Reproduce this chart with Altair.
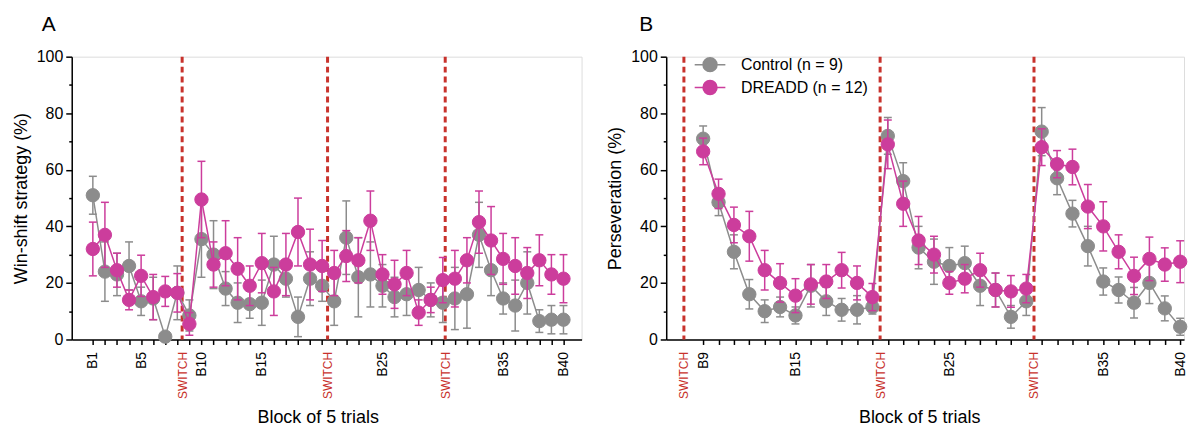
import altair as alt
import pandas as pd

FONT = "Liberation Sans"
GROUPS = ["Control (n = 9)", "DREADD (n = 12)"]
COLORS = ["#8c8c8c", "#cc3d9c"]
SWITCH_COLOR = "#c8322c"

# ---------------- Panel A: win-shift strategy ----------------
blocks_a = list(range(1, 41))
ctrl_a = [51, 24, 23, 26, 13.5, 14.5, 1, 16.5,
          8.5, 35.5, 30, 18, 13, 12.5, 13, 26.5, 21.5, 8, 21.5, 19,
          13.5, 36, 22, 23, 19, 15, 16, 17.5, 14, 13,
          14.5, 16, 37, 24.5, 14.5, 12, 20, 6.5, 7, 7]
ctrl_a_sem = [6.7, 10.5, 7.5, 8.5, 5, 7.5, 0.3, 9.5,
              5.5, 13.5, 12, 6, 7, 5, 8, 10, 6.5, 7, 9.5, 5.5,
              8.5, 13, 14, 11.5, 7.5, 7, 7.5, 8, 6, 7,
              11, 12, 11.5, 9, 5.5, 9, 11, 4, 5, 5]
dreadd_a = [32, 37, 24.5, 14, 22.5, 15, 17, 16.5,
            5.5, 49.5, 26.5, 30.5, 25, 19, 27, 17, 26.5, 38, 26.5, 26,
            23.5, 29.5, 28, 42, 23, 19.5, 23.5, 9.5, 14, 21,
            21.5, 28, 41.5, 35, 28.5, 26, 23.5, 28, 23, 21.5]
dreadd_a_sem = [9.5, 11.5, 6, 3.5, 7.3, 8, 5.3, 6.8,
                4, 13.5, 8, 11.5, 11, 7, 10.5, 8.5, 11, 12, 12.5, 9,
                8, 9, 8, 10.5, 7, 8.5, 8, 4.5, 4.5, 8,
                10, 8, 11, 12, 9, 10, 9, 9, 7, 8.5]
switch_a = [8.4, 20.45, 30.2]
labels_a = {1: "B1", 5: "B5", 10: "B10", 15: "B15", 25: "B25", 35: "B35", 40: "B40"}

# ---------------- Panel B: perseveration ----------------
blocks_b = list(range(9, 41))
ctrl_b = [71, 48.5, 31, 16, 10, 11.5, 8.5, 19, 13.5, 10.5, 10.5, 11.5,
          72, 56, 32.5, 27.5, 26, 27, 19, 17.5, 8, 13.5,
          73.5, 57, 44.5, 33, 20.5, 17.5, 13, 20, 11, 4.5]
ctrl_b_sem = [4.5, 4.7, 6, 5.2, 4, 3.5, 3, 7.5, 5, 4, 5, 2.5,
              6.5, 6.5, 7.5, 8, 6.5, 6, 7, 6, 4, 5,
              8.5, 5.8, 4.7, 7, 4.8, 4.6, 5.4, 7.3, 4.4, 3]
dreadd_b = [66.5, 51.5, 40.5, 36.5, 24.5, 20, 15.5, 19.5, 20.5, 24.5, 20, 15,
            69, 48, 35, 30, 20, 21.5, 24.5, 17.5, 17, 18,
            68, 62, 61, 47, 40, 31, 22.5, 28.5, 26.5, 27.5]
dreadd_b_sem = [4.7, 5.2, 6.3, 8.8, 7, 6.8, 6, 7, 6, 6.3, 6, 4.8,
                8.6, 8, 8.5, 6.5, 4, 5, 6, 6, 5.6, 5,
                6.5, 4.8, 6.3, 7.8, 8.7, 6, 6.6, 7.7, 5.9, 7.4]
switch_b = [7.75, 20.5, 30.5]
labels_b = {9: "B9", 15: "B15", 25: "B25", 35: "B35", 40: "B40"}


def make_df(blocks, ctrl, ctrl_sem, dreadd, dreadd_sem):
    rows = []
    for g, vals, sems in ((GROUPS[0], ctrl, ctrl_sem), (GROUPS[1], dreadd, dreadd_sem)):
        for b, v, s in zip(blocks, vals, sems):
            rows.append({"block": b, "mean": v, "lo": max(v - s, 0), "hi": v + s, "group": g})
    return pd.DataFrame(rows)


LEGEND_PATH = "M-2.2,0L-1,0M1,0L2.2,0M1,0A1,1,0,1,1,-1,0A1,1,0,1,1,1,0Z"
IS_SW = "datum.value % 1 != 0"


def panel(df, switches, labels, xdomain, width, ytitle, letter, letter_dx, show_legend, title_dx):
    tick_vals = sorted(set(df["block"].tolist()) | set(switches))
    parts = " : ".join(f"datum.value == {k} ? '{v}'" for k, v in labels.items())
    label_expr = f"{parts} : ({IS_SW} ? 'SWITCH' : '')"
    xaxis = alt.Axis(
        values=tick_vals, labelExpr=label_expr, labelAngle=270, labelOverlap=False,
        labelFlush=False, labelFont=FONT,
        labelFontSize={"condition": {"test": IS_SW, "value": 12}, "value": 14},
        labelColor={"condition": {"test": IS_SW, "value": SWITCH_COLOR}, "value": "black"},
        tickOpacity={"condition": {"test": IS_SW, "value": 0}, "value": 1},
        tickSize=5, tickWidth=1.5, tickColor="black", domainColor="black", domainWidth=1.5,
        labelPadding=7, title="Block of 5 trials", titleFont=FONT, titleFontSize=18,
        titleFontWeight="normal", titleColor="black", titlePadding=10,
        titleX=width / 2 + title_dx, titleAlign="center", grid=False)
    yaxis = alt.Axis(
        values=list(range(0, 101, 10)), labelExpr="datum.value % 20 == 0 ? datum.label : ''",
        tickSize={"condition": {"test": "datum.value % 20 != 0", "value": 3}, "value": 6},
        tickWidth=1.5, tickColor="black", domainColor="black", domainWidth=1.5,
        labelFont=FONT, labelFontSize=16, labelPadding=3, labelColor="black", labelOverlap=False,
        title=ytitle, titleFont=FONT, titleFontSize=18, titleFontWeight="normal",
        titleColor="black", titlePadding=6, grid=False)
    xs = alt.Scale(domain=xdomain, nice=False, zero=False)
    ys = alt.Scale(domain=[0, 100], nice=False)
    cscale = alt.Scale(domain=GROUPS, range=COLORS)
    if show_legend:
        leg = alt.Legend(title=None, orient="none", legendX=36, legendY=0,
                         symbolType=LEGEND_PATH, symbolSize=196, symbolStrokeWidth=1.5,
                         labelFont=FONT, labelFontSize=16, labelColor="black",
                         labelOffset=23, rowPadding=3)
    else:
        leg = None

    sw_df = pd.DataFrame({"x": switches})
    layers = [
        alt.Chart(sw_df).mark_rule(color=SWITCH_COLOR, strokeWidth=3, strokeDash=[6, 4]).encode(
            x=alt.X("x:Q", scale=xs, axis=xaxis),
            y=alt.YDatum(100, scale=ys, axis=yaxis), y2=alt.Y2Datum(0))
    ]
    for g in GROUPS:
        d = df[df["group"] == g]
        base = alt.Chart(d).encode(x=alt.X("block:Q", scale=xs, axis=xaxis))
        stroke = alt.Stroke("group:N", scale=cscale, legend=leg)
        fill = alt.Fill("group:N", scale=cscale, legend=leg)
        layers += [
            base.mark_rule(strokeWidth=1.5).encode(
                y=alt.Y("lo:Q", scale=ys, axis=yaxis), y2="hi:Q", stroke=stroke),
            base.mark_rule(strokeWidth=1.5, xOffset=-4, x2Offset=4).encode(
                x2="block:Q", y=alt.Y("hi:Q", scale=ys, axis=yaxis), stroke=stroke),
            base.mark_rule(strokeWidth=1.5, xOffset=-4, x2Offset=4).encode(
                x2="block:Q", y=alt.Y("lo:Q", scale=ys, axis=yaxis), stroke=stroke),
            base.mark_line(strokeWidth=1.5).encode(
                y=alt.Y("mean:Q", scale=ys, axis=yaxis), stroke=stroke),
            base.mark_point(filled=True, size=180, opacity=1, strokeWidth=1).encode(
                y=alt.Y("mean:Q", scale=ys, axis=yaxis), fill=fill, stroke=stroke),
        ]
    return alt.layer(*layers).properties(
        width=width, height=284,
        title=alt.TitleParams(letter, anchor="start", frame="group", font=FONT, fontSize=21,
                              fontWeight="normal", color="black", dx=letter_dx, offset=14))


df_a = make_df(blocks_a, ctrl_a, ctrl_a_sem, dreadd_a, dreadd_a_sem)
df_b = make_df(blocks_b, ctrl_b, ctrl_b_sem, dreadd_b, dreadd_b_sem)

pa = panel(df_a, switch_a, labels_a, [-0.75, 41.5], 512, "Win-shift strategy (%)", "A", -30, False, -9)
pb = panel(df_b, switch_b, labels_b, [6.6, 40.25], 520, "Perseveration (%)", "B", -27, True, -6)

chart = alt.hconcat(pa, pb, spacing=23).resolve_scale(
    fill="independent", stroke="independent"
).resolve_legend(fill="independent", stroke="independent").properties(
    padding={"left": 3, "top": 4, "right": 0, "bottom": 0}
).configure_view(stroke=None).configure(background="white")

chart.save("out.html", embed_options={"renderer": "svg", "actions": False})
